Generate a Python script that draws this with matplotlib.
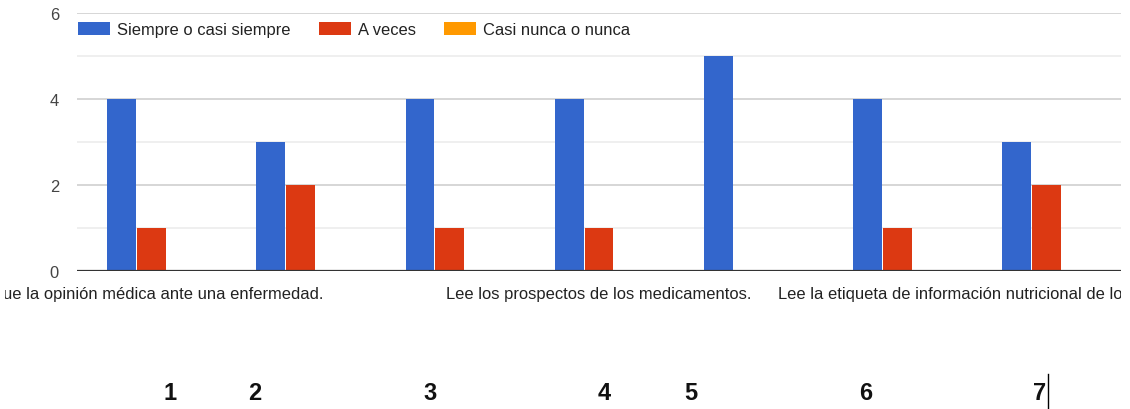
import matplotlib
matplotlib.use("Agg")
import matplotlib.pyplot as plt
from matplotlib.patches import Patch
from matplotlib.lines import Line2D
from matplotlib.transforms import Bbox
import numpy as np

plt.rcParams['font.family'] = ['Liberation Sans', 'DejaVu Sans']

# datos
etiquetas_x = [
    "Sigue la opinión médica ante una enfermedad.",
    "",
    "",
    "Lee los prospectos de los medicamentos.",
    "",
    "",
    "Lee la etiqueta de información nutricional de los alimentos que consume.",
]
series = ["Siempre o casi siempre", "A veces", "Casi nunca o nunca"]
siempre = [4, 3, 4, 4, 5, 4, 3]
a_veces = [1, 2, 1, 1, 0, 1, 2]
casi_nunca = [0, 0, 0, 0, 0, 0, 0]
numeros = ["1", "2", "3", "4", "5", "6", "7"]

colores = ["#3366cc", "#dc3912", "#ff9900"]

W, H = 1130, 410
fig = plt.figure(figsize=(W / 100, H / 100), dpi=100)
ax = fig.add_axes([77 / W, 1 - 272 / H, (1121 - 77) / W, (272 - 14) / H])

x = np.arange(len(siempre))
ancho = 0.2
for i, (vals, col) in enumerate(zip([siempre, a_veces, casi_nunca], colores)):
    ax.bar(x + (i - 1) * ancho, vals, width=ancho * 0.97, color=col,
           edgecolor="none", zorder=3)

ax.set_xlim(-0.5, len(x) - 0.5)
ax.set_ylim(0, 6)
ax.set_yticks([0, 2, 4, 6])
ax.set_yticks([1, 3, 5], minor=True)
ax.grid(axis="y", which="major", color="#cccccc", linewidth=1.1, zorder=0)
ax.grid(axis="y", which="minor", color="#ebebeb", linewidth=1.1, zorder=0)
ax.axhline(0, color="#333333", linewidth=1.6, zorder=4)
for s in ax.spines.values():
    s.set_visible(False)
ax.tick_params(axis="y", which="both", length=0, pad=13, labelsize=11.9,
               labelcolor="#444444")
ax.set_xticks(x)
ax.set_xticklabels(etiquetas_x, fontsize=11.9, color="#222222")
ax.tick_params(axis="x", length=0, pad=11)

# la zona del grafico original recorta las etiquetas largas
recorte = Bbox.from_extents(5, 0, 1121, H)
for t in ax.get_xticklabels():
    t.set_clip_box(recorte)
    t.set_clip_on(True)

handles = [Patch(facecolor=c, edgecolor="none") for c in colores]
fig.legend(handles, series, loc="center left",
           bbox_to_anchor=(78 / W, 1 - 30.5 / H), ncol=3, frameon=False,
           fontsize=11.9, handlelength=1.94, handleheight=0.9,
           handletextpad=0.42, columnspacing=1.7, borderpad=0,
           borderaxespad=0, labelcolor="#222222")

# numeros en negrita debajo del grafico
pos_numeros = [170, 255, 430, 604, 691, 866, 1040]
for n, px in zip(numeros, pos_numeros):
    fig.text(px / W, 1 - 394 / H, n, ha="center", va="center",
             fontsize=17, fontweight="bold", color="#111111")

# cursor de texto
fig.add_artist(Line2D([1048 / W, 1048 / W], [1 - 375 / H, 0],
                      color="#000000", linewidth=1.0))

fig.savefig("out.png", dpi=100)
